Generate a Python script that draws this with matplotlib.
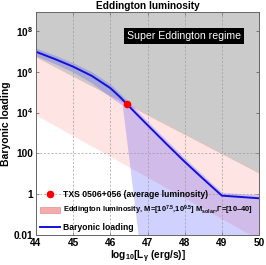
import numpy as np
import matplotlib
matplotlib.use("Agg")
import matplotlib.pyplot as plt
from matplotlib.patches import Patch
from matplotlib.lines import Line2D
from matplotlib.ticker import FixedLocator, FixedFormatter, NullLocator

plt.rcParams['font.family'] = ['Liberation Sans', 'DejaVu Sans']
plt.rcParams['font.weight'] = 'bold'
plt.rcParams['mathtext.fontset'] = 'custom'
plt.rcParams['mathtext.rm'] = 'Liberation Sans:bold'
plt.rcParams['mathtext.bf'] = 'Liberation Sans:bold'
plt.rcParams['mathtext.it'] = 'Liberation Sans:bold:italic'
plt.rcParams['mathtext.default'] = 'bf'

# ---- data (log10 values) ----
edd_x = [44.0, 50.0]
edd_upper_log = [6.73, 1.04]
edd_lower_log = [3.88, -2.22]

curve_x = [44.0, 44.5, 45.0, 45.5, 46.0, 46.25, 46.45, 46.7, 47.0, 47.5, 48.0, 48.5, 49.0, 50.0]
curve_log = [6.98, 6.63, 6.25, 5.80, 5.20, 4.78, 4.41, 3.94, 3.39, 2.48, 1.59, 0.75, -0.07, -0.20]

band_x = [44.0, 44.5, 45.0, 45.5, 46.0, 46.32, 46.45, 46.75, 46.78, 47.0, 47.5, 48.0, 48.5, 49.0, 50.0]
band_hi_log = [7.16, 6.82, 6.44, 6.00, 5.40, 4.84, 4.60, 4.03, 3.98, 3.57, 2.67, 1.78, 0.93, 0.10, -0.04]
band_lo_log = [6.78, 6.40, 5.98, 5.45, 4.76, 4.37, 2.45, -2.00, -2.50, -2.50, -2.50, -2.50, -2.50, -2.50, -2.50]

txs_x = [46.45]
txs_log = [4.41]

ytick_vals = [1e-2, 1, 1e2, 1e4, 1e6, 1e8]
ytick_labels = ['0.01', '1', '100', r'10$^4$', r'10$^6$', r'10$^8$']
xtick_vals = [44, 45, 46, 47, 48, 49, 50]

ylim_log = (-2.0, 8.93)

# ---- figure ----
fig = plt.figure(figsize=(2.66, 2.65), dpi=100)
ax = fig.add_axes([36/266, 1-235/265, 223/266, 223/265])
ax.set_yscale('log')
ax.set_xlim(44, 50)
ax.set_ylim(10**ylim_log[0], 10**ylim_log[1])

ex = np.array(edd_x)
eu = 10**np.array(edd_upper_log)
el = 10**np.array(edd_lower_log)
top = np.full_like(eu, 10**(ylim_log[1] + 0.5))

ax.fill_between(ex, eu, top, color='#cbcbcb', lw=0, zorder=1)
ax.fill_between(ex, el, eu, color='#ffe4e4', lw=0, zorder=1)
ax.plot(ex, eu, color='#f0b8b8', lw=0.5, zorder=1.5)

bx = np.array(band_x)
ax.fill_between(bx, 10**np.array(band_lo_log), 10**np.array(band_hi_log),
                color='#3030ff', alpha=0.22, lw=0, zorder=2)

# grid
for xv in xtick_vals[1:-1]:
    ax.axvline(xv, color='#9a9a9a', lw=0.6, ls=(0, (2.5, 2)), zorder=2.5, alpha=0.8)
for yv in [1, 100]:
    ax.axhline(yv, color='#9a9a9a', lw=0.6, ls=(0, (2.5, 2)), zorder=2.5, alpha=0.8)

ax.plot(curve_x, 10**np.array(curve_log), color='#1010e0', lw=1.4, zorder=3)
ax.plot(txs_x, 10**np.array(txs_log), 'o', color='#ff0000', ms=5.5, mec='none', zorder=4)

# ticks
ax.yaxis.set_major_locator(FixedLocator(ytick_vals))
ax.yaxis.set_major_formatter(FixedFormatter(ytick_labels))
ax.yaxis.set_minor_locator(NullLocator())
ax.set_xticks(xtick_vals)
ax.set_xticklabels([str(v) for v in xtick_vals])
ax.tick_params(axis='both', direction='in', length=2.5, width=0.5, color='#555555',
               labelsize=7.3, pad=2, top=True, right=True)
for lab in ax.get_xticklabels() + ax.get_yticklabels():
    lab.set_fontweight('bold')
for sp in ax.spines.values():
    sp.set_color('#666666')
    sp.set_linewidth(0.7)
    sp.set_zorder(5)

ax.set_title('Eddington luminosity', fontsize=7.3, fontweight='bold', pad=2.5)
ax.set_ylabel('Baryonic loading', fontsize=7.5, fontweight='bold', labelpad=2)
ax.set_xlabel(r'log$_{10}$[$L_\gamma$ (erg/s)]', fontsize=7.3, fontweight='bold', labelpad=0.5)

ax.text(47.98, 10**7.75, 'Super Eddington regime', color='white', fontsize=7.6,
        fontweight='normal', ha='center', va='center', zorder=6,
        bbox=dict(boxstyle='square,pad=0.25', fc='black', ec='none'))

handles = [
    Line2D([], [], marker='o', ls='none', color='#ff0000', ms=5.5, mec='none'),
    Patch(facecolor='#f7aaaa', edgecolor='#e09090', lw=0.5),
    Line2D([], [], color='#1010e0', lw=1.4),
]
labels = ['TXS 0506+056 (average luminosity)',
          r'Eddington luminosity, M=[10$^{7.5}$,10$^{9.5}$] M$_{\mathrm{solar}}$,Γ=[10–40]',
          'Baryonic loading']
leg = ax.legend(handles, labels, loc='lower left', bbox_to_anchor=(0.02, 0.015),
                frameon=False, fontsize=6.2, handlelength=2.3, handletextpad=0.35,
                labelspacing=0.6, borderpad=0, borderaxespad=0)
leg.set_zorder(7)
for t in leg.get_texts():
    t.set_fontweight('bold')
leg.get_texts()[1].set_fontsize(5.4)

fig.savefig('out.png', dpi=100)
